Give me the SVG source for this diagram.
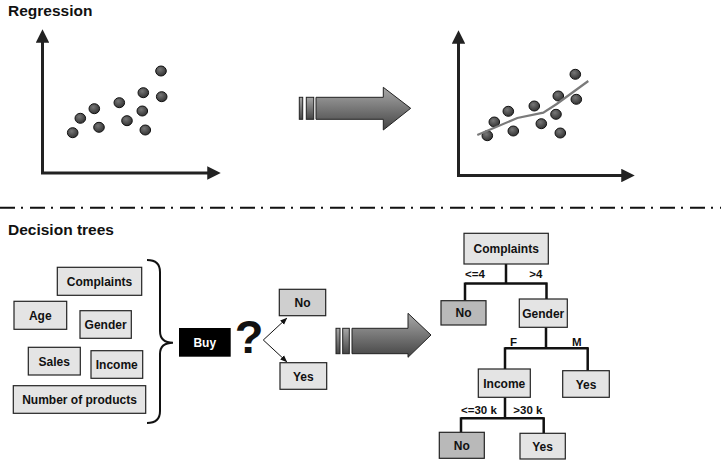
<svg xmlns="http://www.w3.org/2000/svg" width="721" height="465" viewBox="0 0 721 465">
<style>
text{font-family:"Liberation Sans",Arial,sans-serif;fill:#111}
.title{font-size:15.5px;font-weight:bold}
.lbl{font-size:12px;font-weight:bold;text-anchor:middle}
.edge{font-size:11.5px;font-weight:bold}
.box{fill:#e4e4e4;stroke:#222;stroke-width:1.2}
.dark{fill:#b9b9b9;stroke:#222;stroke-width:1.2}
.mid{fill:#cfcfcf;stroke:#222;stroke-width:1.2}
.axis{stroke:#222;stroke-width:3;fill:none}
.dot{fill:url(#dotg);stroke:#111;stroke-width:1}
.tree{stroke:#111;stroke-width:2.5;fill:none}
.big{fill:url(#arrowg);stroke:#222;stroke-width:1}
</style>
<defs>
<linearGradient id="arrowg" x1="0" y1="0" x2="0" y2="1">
<stop offset="0" stop-color="#a8a8a8"/>
<stop offset="1" stop-color="#454545"/>
</linearGradient>
<radialGradient id="dotg" cx="0.4" cy="0.35" r="0.7">
<stop offset="0" stop-color="#777"/>
<stop offset="1" stop-color="#2e2e2e"/>
</radialGradient>
<marker id="axh" viewBox="0 0 10 10" refX="5" refY="5" markerWidth="4.5" markerHeight="4.5" orient="auto">
<path d="M0,0 L10,5 L0,10 Z" fill="#222"/>
</marker>
<marker id="sm" viewBox="0 0 10 10" refX="9" refY="5" markerWidth="7" markerHeight="7" orient="auto" markerUnits="userSpaceOnUse">
<path d="M0,1 L10,5 L0,9 Z" fill="#111"/>
</marker>
</defs>

<text class="title" x="8" y="16">Regression</text>
<text class="title" x="8" y="235">Decision trees</text>

<g id="plot-left">
<path class="axis" d="M42.5,174 L42.5,36" marker-end="url(#axh)"/>
<path class="axis" d="M41,173 L214,173" marker-end="url(#axh)"/>
<ellipse class="dot" cx="72.7" cy="132.7" rx="5.3" ry="5"/>
<ellipse class="dot" cx="80.3" cy="118.3" rx="5.3" ry="5"/>
<ellipse class="dot" cx="94.3" cy="108.7" rx="5.3" ry="5"/>
<ellipse class="dot" cx="99" cy="127.3" rx="5.3" ry="5"/>
<ellipse class="dot" cx="119.3" cy="102.7" rx="5.3" ry="5"/>
<ellipse class="dot" cx="127" cy="120.7" rx="5.3" ry="5"/>
<ellipse class="dot" cx="143.3" cy="92.7" rx="5.3" ry="5"/>
<ellipse class="dot" cx="142.3" cy="111" rx="5.3" ry="5"/>
<ellipse class="dot" cx="145.3" cy="130" rx="5.3" ry="5"/>
<ellipse class="dot" cx="161" cy="71" rx="5.3" ry="5"/>
<ellipse class="dot" cx="161.7" cy="96.7" rx="5.3" ry="5"/>
</g>

<g id="arrow-top">
<rect class="big" x="299.3" y="97.3" width="3.4" height="22"/>
<rect class="big" x="306.3" y="97.3" width="7.4" height="22"/>
<path class="big" d="M316,97.3 L383.3,97.3 L383.3,87.3 L410.7,108.3 L383.3,130 L383.3,119.3 L316,119.3 Z"/>
</g>

<g id="plot-right">
<path class="axis" d="M458.5,176 L458.5,37" marker-end="url(#axh)"/>
<path class="axis" d="M457,175.5 L628,175.5" marker-end="url(#axh)"/>
<ellipse class="dot" cx="487.3" cy="135.7" rx="5.3" ry="5"/>
<ellipse class="dot" cx="494.3" cy="122" rx="5.3" ry="5"/>
<ellipse class="dot" cx="508.3" cy="111.3" rx="5.3" ry="5"/>
<ellipse class="dot" cx="513.3" cy="131" rx="5.3" ry="5"/>
<ellipse class="dot" cx="534.3" cy="106" rx="5.3" ry="5"/>
<ellipse class="dot" cx="541.3" cy="123.7" rx="5.3" ry="5"/>
<ellipse class="dot" cx="558.3" cy="96" rx="5.3" ry="5"/>
<ellipse class="dot" cx="556" cy="114.3" rx="5.3" ry="5"/>
<ellipse class="dot" cx="560.3" cy="133" rx="5.3" ry="5"/>
<ellipse class="dot" cx="575.3" cy="74.3" rx="5.3" ry="5"/>
<ellipse class="dot" cx="576.3" cy="99.3" rx="5.3" ry="5"/>
<polyline points="477.3,135 517.3,118 543.3,112.7 556.7,104 588.3,81" fill="none" stroke="#7a7a7a" stroke-width="2.2"/>
</g>

<line id="separator" x1="0" y1="207.7" x2="721" y2="207.7" stroke="#111" stroke-width="2" stroke-dasharray="15 6 2 7"/>

<g id="n-complaints-l"><rect class="box" x="57.3" y="267.3" width="84.4" height="28"/><text class="lbl" x="99.5" y="285.5">Complaints</text></g>
<g id="n-age"><rect class="box" x="14" y="301.3" width="52.7" height="28"/><text class="lbl" x="40.3" y="319.5">Age</text></g>
<g id="n-gender-l"><rect class="box" x="80" y="310.7" width="51.3" height="27.6"/><text class="lbl" x="105.6" y="328.7">Gender</text></g>
<g id="n-sales"><rect class="box" x="28.3" y="347.3" width="52" height="27.7"/><text class="lbl" x="54.3" y="365.5">Sales</text></g>
<g id="n-income-l"><rect class="box" x="91" y="350.7" width="51.7" height="27.6"/><text class="lbl" x="116.8" y="368.8">Income</text></g>
<g id="n-numprod"><rect class="box" x="13.3" y="385.7" width="132.4" height="27.6"/><text class="lbl" x="79.5" y="403.8">Number of products</text></g>

<path id="brace" d="M147,260 Q160,260 160,272 L160,331 Q160,342.7 173,342.7 Q160,342.7 160,354 L160,411 Q160,423 147,423" fill="none" stroke="#111" stroke-width="2"/>

<g id="n-buy"><rect x="179" y="328" width="51.7" height="28.7" fill="#000"/><text class="lbl" x="204.8" y="346.5" style="fill:#fff">Buy</text></g>
<text id="qmark" x="249" y="353" font-size="47" font-weight="bold" text-anchor="middle" style="fill:#111">?</text>

<g id="connectors">
<line x1="263.3" y1="340" x2="286.7" y2="318.3" stroke="#111" stroke-width="1" marker-end="url(#sm)"/>
<line x1="263.3" y1="340" x2="286.7" y2="361.7" stroke="#111" stroke-width="1" marker-end="url(#sm)"/>
<path class="tree" d="M506,264 L506,283.5 M465,283.5 L547.3,283.5 M465,282.5 L465,300.7 M546.5,282.5 L546.5,299"/>
<path class="tree" d="M546,327.3 L546,348.3 M505,348.3 L588,348.3 M505,347.3 L505,369 M587.7,347.3 L587.7,370.7"/>
<path class="tree" d="M505,397.3 L505,418.3 M461,418.3 L543.7,418.3 M461,417.3 L461,432.3 M543.7,417.3 L543.7,433.3"/>
</g>

<g id="n-no-q"><rect class="mid" x="279.3" y="289.3" width="46.4" height="26.4"/><text class="lbl" x="302.5" y="307">No</text></g>
<g id="n-yes-q"><rect class="box" x="280" y="362.7" width="46.7" height="26.6"/><text class="lbl" x="303.3" y="380.5">Yes</text></g>

<g id="arrow-bottom">
<rect class="big" x="336" y="328.3" width="4" height="25.4"/>
<rect class="big" x="342.7" y="328.3" width="6.6" height="25.4"/>
<path class="big" d="M352,328.3 L408,328.3 L408,313.3 L431,335 L408,357.3 L408,353.7 L352,353.7 Z"/>
</g>

<g id="t-complaints"><rect class="box" x="464" y="233.3" width="84.3" height="30.7"/><text class="lbl" x="506.2" y="253">Complaints</text></g>
<g id="t-no1"><rect class="dark" x="441" y="300.7" width="45" height="24.3"/><text class="lbl" x="463.5" y="317">No</text></g>
<g id="t-gender"><rect class="box" x="519.3" y="299" width="48" height="28.3"/><text class="lbl" x="543.3" y="317.5">Gender</text></g>
<g id="t-income"><rect class="box" x="478.3" y="369" width="52" height="28.3"/><text class="lbl" x="504.3" y="387.5">Income</text></g>
<g id="t-yes1"><rect class="box" x="562.7" y="370.7" width="46.6" height="26.6"/><text class="lbl" x="586" y="388.5">Yes</text></g>
<g id="t-no2"><rect class="dark" x="439.3" y="432.3" width="45" height="26"/><text class="lbl" x="461.8" y="449.5">No</text></g>
<g id="t-yes2"><rect class="box" x="520" y="433.3" width="45.3" height="25.7"/><text class="lbl" x="542.6" y="451">Yes</text></g>

<g id="edge-labels">
<text class="edge" x="465" y="278.3">&lt;=4</text>
<text class="edge" x="529.3" y="278.3">&gt;4</text>
<text class="edge" x="510" y="345.7">F</text>
<text class="edge" x="572" y="345.7">M</text>
<text class="edge" x="461" y="414.3">&lt;=30 k</text>
<text class="edge" x="513.3" y="414.3">&gt;30 k</text>
</g>
</svg>
